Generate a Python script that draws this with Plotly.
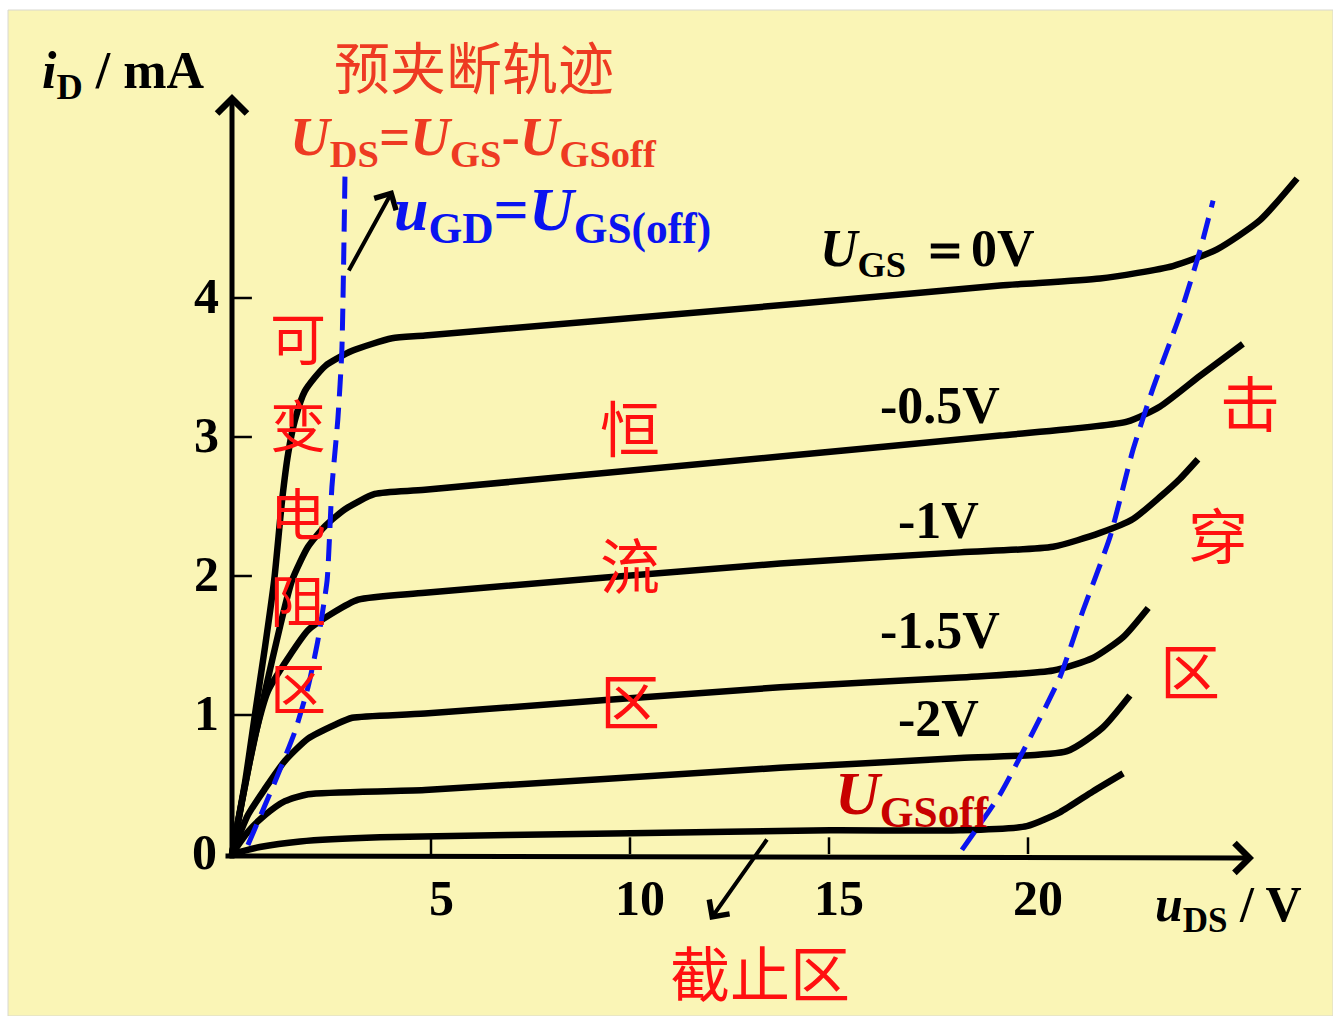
import plotly.graph_objects as go

W, H = 1333, 1016
X0, SX = 232.0, 39.8   # pixel of u_DS=0, pixels per volt
Y0, SY = 854.0, 139.0  # pixel of i_D=0, pixels per mA

def dx(px):
    return (px - X0) / SX

def dy(py):
    return (Y0 - py) / SY

# ---------------- data ----------------
ugs0_x = [0, 0.33, 0.58, 0.83, 1.06, 1.26, 1.41, 1.58, 1.83, 2.34, 3.02, 4.02, 4.85, 14.27, 19.30, 21.81, 23.64, 24.75, 25.83, 26.76]
ugs0_y = [0, 0.52, 1.01, 1.49, 1.97, 2.55, 2.88, 3.12, 3.33, 3.51, 3.62, 3.71, 3.73, 3.96, 4.09, 4.14, 4.23, 4.35, 4.56, 4.86]

ugs05_x = [0, 0.45, 0.83, 1.21, 1.51, 1.91, 2.34, 2.84, 3.59, 4.85, 13.77, 19.30, 22.49, 23.32, 24.32, 25.40]
ugs05_y = [0, 0.67, 1.17, 1.64, 1.97, 2.21, 2.36, 2.48, 2.59, 2.62, 2.86, 3.01, 3.11, 3.22, 3.44, 3.67]

ugs1_x = [0, 0.25, 0.58, 0.90, 1.41, 1.91, 2.51, 3.17, 4.85, 13.77, 18.29, 20.63, 21.81, 22.64, 23.32, 23.82, 24.27]
ugs1_y = [0, 0.38, 0.85, 1.17, 1.41, 1.61, 1.73, 1.83, 1.88, 2.09, 2.17, 2.21, 2.31, 2.41, 2.57, 2.70, 2.84]

ugs15_x = [0, 0.40, 0.83, 1.33, 1.91, 2.59, 3.02, 4.85, 13.77, 18.29, 20.63, 21.63, 22.39, 23.02]
ugs15_y = [0, 0.28, 0.47, 0.67, 0.83, 0.93, 0.98, 1.01, 1.20, 1.27, 1.32, 1.41, 1.56, 1.77]

ugs2_x = [0, 0.40, 0.83, 1.33, 1.91, 4.85, 13.77, 18.29, 20.98, 21.88, 22.56]
ugs2_y = [0, 0.16, 0.28, 0.38, 0.43, 0.46, 0.62, 0.69, 0.74, 0.91, 1.14]

ugsoff_x = [0, 0.70, 1.71, 3.72, 10.0, 15.03, 18.29, 19.97, 20.80, 21.63, 22.39]
ugsoff_y = [0, 0.05, 0.09, 0.12, 0.15, 0.17, 0.17, 0.20, 0.30, 0.45, 0.58]

pinch_x = [0.40, 1.08, 1.58, 1.91, 2.16, 2.39, 2.51, 2.66, 2.76, 2.84]
pinch_y = [0.065, 0.52, 0.88, 1.20, 1.54, 1.97, 2.64, 3.13, 3.62, 4.91]

brk_x = [18.34, 19.30, 20.13, 20.80, 21.38, 22.06, 22.64, 23.14, 23.82, 24.32, 24.65]
brk_y = [0.03, 0.43, 0.88, 1.27, 1.75, 2.28, 2.91, 3.35, 3.88, 4.34, 4.70]

x_ticks = [5, 10, 15, 20]
x_tick_labels = ["5", "10", "15", "20"]
y_ticks = [0, 1, 2, 3, 4]
y_tick_labels = ["0", "1", "2", "3", "4"]

curve_labels = ["<i>U</i><sub>GS</sub> ＝0V", "-0.5V", "-1V", "-1.5V", "-2V"]

# ---------------- figure ----------------
SERIF = "Times New Roman, Liberation Serif, serif"
CJK = "Noto Sans CJK SC"
RED = "#FF1010"
ORANGE_RED = "#EE3A22"
BLUE = "#0A14F0"

fig = go.Figure()

# background panel
fig.add_shape(type="rect", xref="paper", yref="paper",
              x0=8 / W, x1=1.0, y0=0, y1=1 - 10 / H,
              fillcolor="#FAF5B6", line=dict(color="#D8D8D0", width=1), layer="below")

# characteristic curves
for cx, cy in [(ugs0_x, ugs0_y), (ugs05_x, ugs05_y), (ugs1_x, ugs1_y),
               (ugs15_x, ugs15_y), (ugs2_x, ugs2_y), (ugsoff_x, ugsoff_y)]:
    fig.add_trace(go.Scatter(x=cx, y=cy, mode="lines",
                             line=dict(color="black", width=6.5, shape="spline", smoothing=0.6),
                             hoverinfo="skip", showlegend=False))

# dashed loci
for cx, cy in [(pinch_x, pinch_y), (brk_x, brk_y)]:
    fig.add_trace(go.Scatter(x=cx, y=cy, mode="lines",
                             line=dict(color=BLUE, width=5, dash="22px,11px", shape="spline", smoothing=0.5),
                             hoverinfo="skip", showlegend=False))

# tick marks
tx, ty = [], []
for t in x_ticks:
    tx += [t, t, None]
    ty += [0, 0.12, None]
fig.add_trace(go.Scatter(x=tx, y=ty, mode="lines", line=dict(color="black", width=2.5),
                         hoverinfo="skip", showlegend=False))
tx, ty = [], []
for t in y_ticks[1:]:
    tx += [0, 0.5, None]
    ty += [t, t, None]
fig.add_trace(go.Scatter(x=tx, y=ty, mode="lines", line=dict(color="black", width=2.5),
                         hoverinfo="skip", showlegend=False))

ann = []

def arrow(x0p, y0p, x1p, y1p, width, size, color="black"):
    ann.append(dict(x=dx(x1p), y=dy(y1p), ax=dx(x0p), ay=dy(y0p),
                    xref="x", yref="y", axref="x", ayref="y", text="",
                    showarrow=True, arrowhead=4, arrowsize=size, arrowwidth=width,
                    arrowcolor=color, standoff=0))

# axes with arrows
arrow(232, 860, 232, 94, 5, 1.15)
arrow(224, 856, 1254, 858, 5, 1.15)
# pointer arrows
arrow(348, 272, 393, 190, 4, 1.2)
arrow(768, 838, 710, 920, 4, 1.2)

def text(s, px, py, size, color="black", family=SERIF, xanchor="center", yanchor="middle"):
    ann.append(dict(x=dx(px), y=dy(py), xref="x", yref="y", text=s, showarrow=False,
                    xanchor=xanchor, yanchor=yanchor,
                    font=dict(family=family, size=size, color=color)))

# tick labels
for t, lab in zip(x_ticks, x_tick_labels):
    text("<b>%s</b>" % lab, X0 + t * SX + 10, 898, 50)
for t, lab in zip(y_ticks, y_tick_labels):
    text("<b>%s</b>" % lab, 206 if t else 204, Y0 - t * SY - 2, 50)

# axis titles
text("<b><i>i</i><sub>D</sub> / mA</b>", 40, 74, 52, xanchor="left")
text("<b><i>u</i><sub>DS</sub> / V</b>", 1153, 908, 50, xanchor="left")

# curve labels
label_pos = [(818, 252, "left"), (940, 405, "center"), (938, 520, "center"),
             (940, 630, "center"), (938, 718, "center")]
for lab, (px, py, xa) in zip(curve_labels, label_pos):
    text("<b>%s</b>" % lab, px, py, 52, xanchor=xa)

text("<b><i>U</i><sub>GSoff</sub></b>", 833, 797, 62, color="#C80000", xanchor="left")

# formulas
text("预夹断轨迹", 474, 64, 56, color=ORANGE_RED, family=CJK)
text("<b><i>U</i><sub>DS</sub>=<i>U</i><sub>GS</sub>-<i>U</i><sub>GSoff</sub></b>",
     288, 140, 55, color=ORANGE_RED, xanchor="left")
text("<b><i>u</i><sub>GD</sub>=<i>U</i><sub>GS(off)</sub></b>",
     392, 214, 62, color=BLUE, xanchor="left")

# region labels
for ch, py in zip("可变电阻区", [335, 422, 510, 597, 685]):
    text(ch, 298, py, 56, color=RED, family=CJK)
for ch, py in zip("恒流区", [425, 562, 698]):
    text(ch, 630, py, 60, color=RED, family=CJK)
for ch, (px, py) in zip("击穿区", [(1250, 400), (1218, 532), (1190, 668)]):
    text(ch, px, py, 60, color=RED, family=CJK)
text("截止区", 760, 970, 60, color=RED, family=CJK)

fig.update_layout(
    width=W, height=H, margin=dict(l=0, r=0, t=0, b=0),
    paper_bgcolor="white", plot_bgcolor="rgba(0,0,0,0)",
    xaxis=dict(range=[dx(0), dx(W)], visible=False, fixedrange=True),
    yaxis=dict(range=[dy(H), dy(0)], visible=False, fixedrange=True),
    annotations=ann, showlegend=False,
)

fig.write_html("out.html", config={"displayModeBar": False},
               post_script="document.body.style.margin='0';document.body.style.overflow='hidden';")
